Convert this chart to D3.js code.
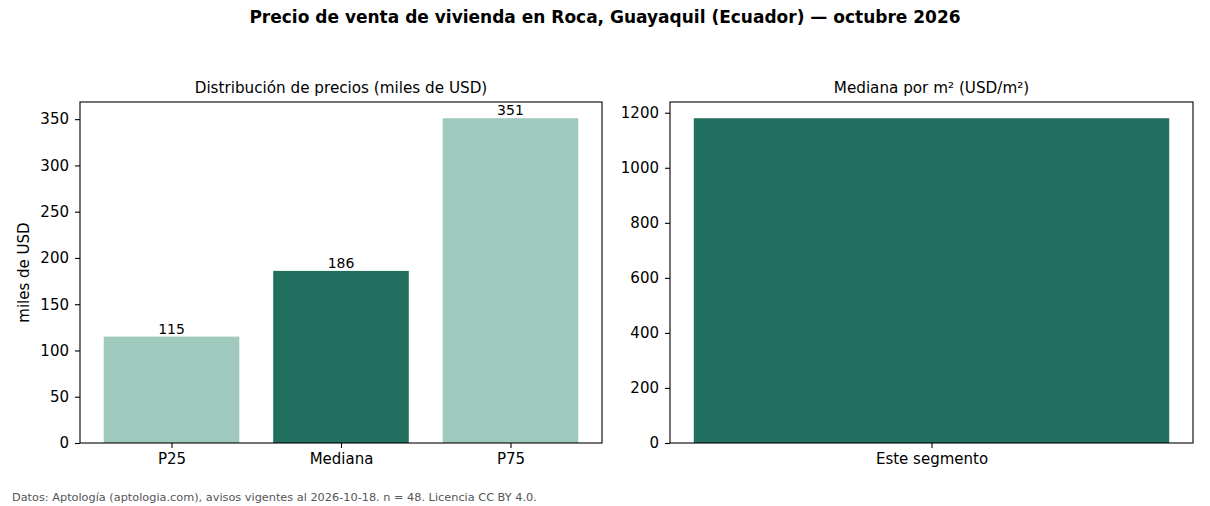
<!DOCTYPE html>
<html><head><meta charset="utf-8">
<script src="https://cdn.jsdelivr.net/npm/d3@7/dist/d3.min.js"></script>
<style>body{margin:0;background:#fff}svg{display:block}text{font-family:"DejaVu Sans",sans-serif}</style>
</head><body><svg id="c" width="1210" height="506"></svg>
<script>
const title = "Precio de venta de vivienda en Roca, Guayaquil (Ecuador) — octubre 2026";
const leftTitle = "Distribución de precios (miles de USD)";
const rightTitle = "Mediana por m² (USD/m²)";
const footer = "Datos: Aptología (aptologia.com), avisos vigentes al 2026-10-18. n = 48. Licencia CC BY 4.0.";
const leftCats = ["P25", "Mediana", "P75"];
const leftVals = [115, 186, 351];
const leftTicks = [0, 50, 100, 150, 200, 250, 300, 350];
const rightCats = ["Este segmento"];
const rightVals = [1180];
const rightTicks = [0, 200, 400, 600, 800, 1000, 1200];
const light = "#9ec9bc", dark = "#216f5f";

const svg = d3.select("#c");
svg.append("text").attr("x", 605).attr("y", 23).attr("text-anchor", "middle")
  .attr("font-weight", "bold").attr("font-size", 17).text(title);
svg.append("text").attr("x", 12).attr("y", 501).attr("font-size", 11.3).attr("fill", "#555").text(footer);

function panel(x0, x1, y0, y1, cats, vals, ticks, colors, labels, ttl, ylab) {
  const g = svg.append("g");
  const n = cats.length;
  const lo = -0.4 - 0.05 * (n - 1 + 0.8), hi = n - 1 + 0.4 + 0.05 * (n - 1 + 0.8);
  const x = d3.scaleLinear().domain([lo, hi]).range([x0, x1]);
  const y = d3.scaleLinear().domain([0, d3.max(vals) * 1.05]).range([y1, y0]);
  g.selectAll("rect.bar").data(vals).join("rect").attr("class", "bar")
    .attr("x", (d, i) => x(i - 0.4)).attr("width", (d, i) => x(i + 0.4) - x(i - 0.4))
    .attr("y", d => y(d)).attr("height", d => y1 - y(d)).attr("fill", (d, i) => colors[i]);
  if (labels) {
    g.selectAll("text.lab").data(vals).join("text").attr("class", "lab")
      .attr("x", (d, i) => x(i)).attr("y", d => y(d) - 3).attr("text-anchor", "middle")
      .attr("font-size", 14).text(d => d);
  }
  const ya = g.append("g").attr("transform", `translate(${x0},0)`)
    .call(d3.axisLeft(y).tickValues(ticks).tickSize(5).tickPadding(6).tickFormat(d3.format("d")));
  const xa = g.append("g").attr("transform", `translate(0,${y1})`)
    .call(d3.axisBottom(x).tickValues(d3.range(n)).tickSize(5).tickPadding(5.5).tickFormat(i => cats[i]));
  [ya, xa].forEach(a => {
    a.select(".domain").remove();
    a.selectAll("text").attr("font-size", 15).attr("fill", "#000").attr("font-family", "DejaVu Sans");
    a.selectAll("line").attr("stroke", "#000").attr("stroke-width", 1.1);
  });
  g.append("rect").attr("x", x0).attr("y", y0).attr("width", x1 - x0).attr("height", y1 - y0)
    .attr("fill", "none").attr("stroke", "#000").attr("stroke-width", 1.1);
  g.append("text").attr("x", (x0 + x1) / 2).attr("y", y0 - 9).attr("text-anchor", "middle")
    .attr("font-size", 15.2).text(ttl);
  if (ylab) {
    g.append("text").attr("transform", `translate(29,${(y0 + y1) / 2}) rotate(-90)`)
      .attr("text-anchor", "middle").attr("font-size", 15).text(ylab);
  }
}
panel(80, 602, 102, 443, leftCats, leftVals, leftTicks, [light, dark, light], true, leftTitle, "miles de USD");
panel(670, 1193, 102, 443, rightCats, rightVals, rightTicks, [dark], false, rightTitle, null);
</script></body></html>
